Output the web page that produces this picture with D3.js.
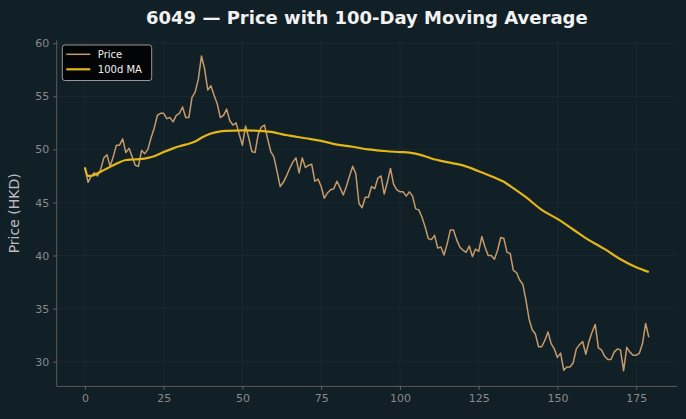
<!DOCTYPE html>
<html>
<head>
<meta charset="utf-8">
<script src="https://cdn.jsdelivr.net/npm/d3@7"></script>
<style>
  html, body { margin: 0; padding: 0; background: #111f26; }
  svg { display: block; }
</style>
</head>
<body>
<svg id="chart" width="686" height="419"></svg>
<script>
// ---- data ----
const price = [
  48.3, 46.9, 47.5, 47.8, 47.5, 48.1, 49.2, 49.5, 48.4, 49.3,
  50.4, 50.4, 51.0, 49.7, 50.1, 49.3, 48.5, 48.4, 49.9, 49.6,
  50.0, 51.1, 52.0, 53.2, 53.4, 53.4, 52.9, 53.0, 52.6, 53.2,
  53.4, 54.0, 53.0, 53.0, 54.9, 55.4, 56.6, 58.8, 57.6, 55.6,
  56.0, 55.1, 54.3, 53.0, 53.2, 53.8, 52.7, 52.3, 52.5, 51.4,
  50.4, 52.2, 51.1, 49.8, 49.7, 51.4, 52.1, 52.3, 51.0, 49.8,
  49.3, 47.9, 46.5, 46.9, 47.5, 48.2, 48.8, 49.2, 47.8, 49.2,
  48.3, 48.5, 48.6, 47.0, 47.2, 46.5, 45.4, 45.9, 46.2, 46.3,
  47.0, 46.4, 45.7, 46.5, 47.5, 48.4, 47.7, 44.9, 44.5, 45.5,
  45.5, 46.5, 46.3, 47.3, 47.5, 45.8, 46.9, 48.2, 46.7, 46.2,
  46.0, 46.0, 45.6, 46.0, 45.6, 44.4, 44.3, 43.6, 42.7, 41.6,
  41.5, 41.9, 40.7, 40.8, 40.05, 41.1, 42.4, 42.4, 41.5, 40.8,
  40.5, 40.3, 40.9, 39.9, 40.6, 40.4, 41.8, 40.8, 40.0, 40.0,
  39.65, 40.5, 41.7, 41.6, 40.3, 40.2, 38.6, 38.4, 37.7, 37.3,
  35.8, 34.0, 33.0, 32.6, 31.4, 31.4, 32.0, 32.8, 31.7, 31.2,
  30.4, 30.8, 29.2, 29.5, 29.5, 29.9, 31.2, 31.6, 31.9, 30.7,
  31.9, 32.8, 33.5, 31.3, 31.1, 30.5, 30.2, 30.2, 30.9, 31.2,
  31.1, 29.15, 31.35, 30.9, 30.6, 30.6, 30.8, 31.7, 33.6, 32.3
];
const maDay = [0, 1, 2, 3, 5, 7, 10, 13, 15, 18, 20, 22, 25, 28, 30, 32, 35, 37, 40, 43, 45, 50,
  55, 60, 63, 65, 68, 70, 75, 80, 85, 90, 95, 100, 103, 105, 108, 110, 115, 120, 125, 130,
  133, 135, 140, 145, 150, 155, 160, 163, 165, 170, 175, 179];
const maValue = [48.3, 47.5, 47.5, 47.6, 47.9, 48.2, 48.65, 49.0, 49.05, 49.1, 49.2, 49.35, 49.75, 50.1, 50.3, 50.45, 50.75, 51.1, 51.5, 51.7, 51.75, 51.8,
  51.75, 51.6, 51.4, 51.3, 51.15, 51.05, 50.8, 50.45, 50.25, 50.0, 49.85, 49.75, 49.7, 49.6, 49.35, 49.15, 48.8, 48.5, 47.95, 47.35,
  46.95, 46.55, 45.5, 44.3, 43.45, 42.45, 41.45, 40.95, 40.6, 39.65, 38.9, 38.45];
const xTicks = [0, 25, 50, 75, 100, 125, 150, 175];
const yTicks = [30, 35, 40, 45, 50, 55, 60];
const titleText = "6049 — Price with 100-Day Moving Average";
const yLabel = "Price (HKD)";
const seriesNames = ["Price", "100d MA"];

// ---- layout ----
const W = 686, H = 419;
const m = { left: 56.7, right: 9, top: 40.3, bottom: 32.6 };
const svg = d3.select("#chart");
svg.append("rect").attr("width", W).attr("height", H).attr("fill", "#111f26");

const n = price.length;
const padX = (n - 1) * 0.05;
const x = d3.scaleLinear().domain([-padX, n - 1 + padX]).range([m.left, W - m.right]);
const [lo, hi] = d3.extent(price);
const padY = (hi - lo) * 0.05;
const y = d3.scaleLinear().domain([lo - padY, hi + padY]).range([H - m.bottom, m.top]);

// grid
const grid = svg.append("g");
grid.selectAll("line.vx").data(xTicks).join("line")
  .attr("x1", d => x(d)).attr("x2", d => x(d))
  .attr("y1", m.top).attr("y2", H - m.bottom)
  .attr("stroke", "#ffffff").attr("stroke-opacity", 0.05).attr("stroke-width", 0.8);
grid.selectAll("line.hy").data(yTicks).join("line")
  .attr("x1", m.left).attr("x2", W - m.right)
  .attr("y1", d => y(d)).attr("y2", d => y(d))
  .attr("stroke", "#ffffff").attr("stroke-opacity", 0.05).attr("stroke-width", 0.8);

// axes
const xAxis = svg.append("g").attr("transform", `translate(0,${H - m.bottom})`)
  .call(d3.axisBottom(x).tickValues(xTicks).tickSize(3.5).tickPadding(4).tickFormat(d3.format("d")));
const yAxis = svg.append("g").attr("transform", `translate(${m.left},0)`)
  .call(d3.axisLeft(y).tickValues(yTicks).tickSize(3.5).tickPadding(4).tickFormat(d3.format("d")));
[xAxis, yAxis].forEach(g => {
  g.select(".domain").attr("stroke", "#5a5a5a").attr("stroke-width", 1);
  g.selectAll(".tick line").attr("stroke", "#6a6a6a").attr("stroke-width", 0.9);
  g.selectAll(".tick text").attr("fill", "#8a8a8a")
    .style("font-family", "DejaVu Sans, sans-serif").style("font-size", "11px");
});
xAxis.select(".domain").attr("d", `M${m.left},0H${W - m.right}`);
yAxis.select(".domain").attr("d", `M0,${H - m.bottom}V${m.top}`);

// lines
const priceColor = "#c59b6b", maColor = "#e3b716";
const priceLine = d3.line().x((d, i) => x(i)).y(d => y(d));
svg.append("path").datum(price)
  .attr("d", priceLine).attr("fill", "none")
  .attr("stroke", priceColor).attr("stroke-width", 1.5).attr("stroke-linejoin", "round");

const maData = maDay.map((d, i) => [d, maValue[i]]);
const maLine = d3.line().x(d => x(d[0])).y(d => y(d[1])).curve(d3.curveMonotoneX);
svg.append("path").datum(maData)
  .attr("d", maLine).attr("fill", "none")
  .attr("stroke", maColor).attr("stroke-width", 2.2).attr("stroke-linejoin", "round");

// title
svg.append("text").attr("x", (m.left + W - m.right) / 2).attr("y", 24)
  .attr("text-anchor", "middle").attr("fill", "#f2f2f2")
  .style("font-family", "DejaVu Sans, sans-serif").style("font-size", "18px").style("font-weight", "bold")
  .text(titleText);

// y label
svg.append("text").attr("transform", `translate(19,${(m.top + H - m.bottom) / 2}) rotate(-90)`)
  .attr("text-anchor", "middle").attr("fill", "#bdbdbd")
  .style("font-family", "DejaVu Sans, sans-serif").style("font-size", "14px")
  .text(yLabel);

// legend
const lg = svg.append("g").attr("transform", "translate(62.3,45)");
lg.append("rect").attr("width", 89.4).attr("height", 35.5).attr("rx", 2.5)
  .attr("fill", "#000000").attr("fill-opacity", 0.85)
  .attr("stroke", "#a8a8a8").attr("stroke-width", 0.9);
const colors = [priceColor, maColor], widths = [1.5, 2.2];
seriesNames.forEach((s, i) => {
  const yy = 9.3 + i * 15;
  lg.append("line").attr("x1", 4).attr("x2", 28).attr("y1", yy).attr("y2", yy)
    .attr("stroke", colors[i]).attr("stroke-width", widths[i]);
  lg.append("text").attr("x", 35.5).attr("y", yy + 3.6).attr("fill", "#f0f0f0")
    .style("font-family", "DejaVu Sans, sans-serif").style("font-size", "10px")
    .text(s);
});
</script>
</body>
</html>
